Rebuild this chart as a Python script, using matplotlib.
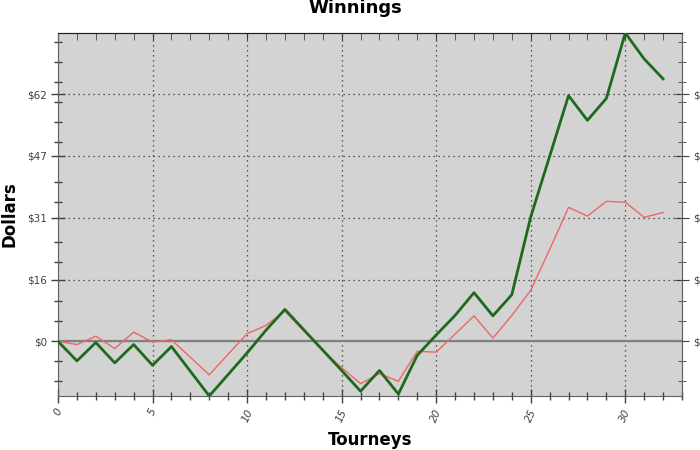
import numpy as np
import matplotlib.pyplot as plt
from matplotlib.ticker import MultipleLocator, FixedLocator

tourneys = list(range(33))
# dark green: actual winnings, red: second series
winnings = [0, -4.9, -0.3, -5.4, -0.8, -6.0, -1.3, -7.5, -13.7, -8.3, -2.9, 2.8,
            8.0, 2.9, -2.2, -7.3, -12.5, -7.3, -13.2, -3.5, 1.6, 6.5, 12.2, 6.4,
            11.7, 31.2, 46.4, 61.6, 55.4, 60.9, 77.3, 70.8, 65.8]
expected = [0, -0.8, 1.3, -1.8, 2.3, -0.2, 0.4, -4.0, -8.4, -3.2, 1.9, 4.0,
            7.6, 2.6, -2.3, -6.6, -10.6, -8.1, -10.0, -2.5, -2.7, 1.8, 6.4, 0.8,
            6.5, 12.8, 23.0, 33.6, 31.4, 35.1, 34.9, 31.1, 32.3]
y_ticks = [0, 15.5, 31, 46.5, 62]
y_labels = ['$0', '$16', '$31', '$47', '$62']
y_minor = [-10, -5, 5, 10, 20, 25, 35, 40, 50, 55, 60, 65, 70, 75]
x_ticks = [0, 5, 10, 15, 20, 25, 30]

fig = plt.figure(figsize=(7, 4.5), dpi=100)
ax = fig.add_axes([58/700, 54/450, 624/700, 363/450])
ax.set_facecolor('#d3d3d3')

ax.axhline(0, color='#808080', lw=1.6, zorder=2)
ax.plot(tourneys, expected, color='#f06565', lw=1, zorder=3)
ax.plot(tourneys, winnings, color='#1c6b1c', lw=2, zorder=4)

ax.set_xlim(0, 33)
ax.set_ylim(min(winnings), max(winnings))

ax.set_xticks(x_ticks)
ax.set_xticklabels([str(t) for t in x_ticks], rotation=65, fontsize=7.5,
                   color='#404040', fontstyle='italic')
ax.xaxis.set_minor_locator(MultipleLocator(1))
ax.set_yticks(y_ticks)
ax.set_yticklabels(y_labels, fontsize=7.5, color='#404040')
ax.yaxis.set_minor_locator(FixedLocator(y_minor))

ax.grid(True, which='major', linestyle=(0, (1, 3)), color='#303030', lw=0.9)
ax.tick_params(axis='both', which='major', direction='inout', length=10, width=1,
               color='#404040', pad=3)
ax.tick_params(axis='both', which='minor', direction='inout', length=6, width=1,
               color='#404040')

top = ax.secondary_xaxis('top')
top.set_xticks(x_ticks)
top.set_xticklabels([])
top.xaxis.set_minor_locator(MultipleLocator(1))
top.tick_params(which='both', direction='in', length=5, color='#404040')

right = ax.secondary_yaxis('right')
right.set_yticks(y_ticks)
right.set_yticklabels(y_labels, fontsize=7.5, color='#404040')
right.yaxis.set_minor_locator(FixedLocator(y_minor))
right.tick_params(which='major', direction='inout', length=10, color='#404040', pad=3)
right.tick_params(which='minor', direction='inout', length=6, color='#404040')

for s in ['left', 'bottom', 'right']:
    ax.spines[s].set_color('#606060')
ax.spines['top'].set_color('#202020')
top.spines['top'].set_color('#202020')
right.spines['right'].set_color('#606060')

fig.text(355/700, 1 - 8/450, 'Winnings', ha='center', va='center',
         fontsize=13, fontweight='bold')
ax.set_xlabel('Tourneys', fontsize=12, fontweight='bold', va='center')
ax.xaxis.set_label_coords(0.5, -44/363)
ax.set_ylabel('Dollars', fontsize=12, fontweight='bold', va='center')
ax.yaxis.set_label_coords(-48/624, 0.5)

fig.savefig('out.png', dpi=100)
